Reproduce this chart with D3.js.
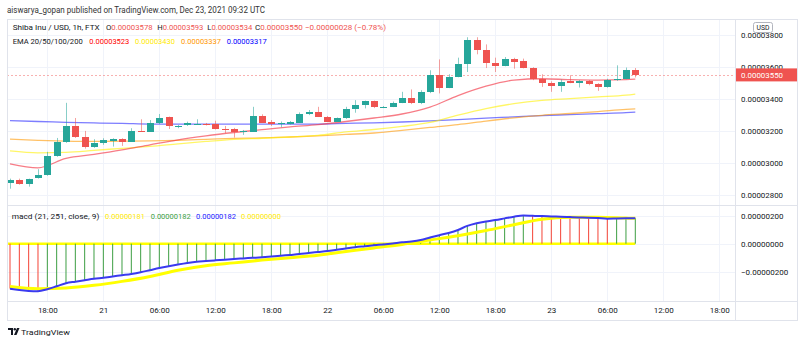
<!DOCTYPE html>
<html><head><meta charset="utf-8">
<script src="https://cdn.jsdelivr.net/npm/d3@7"></script>
<style>
body{margin:0;background:#fff}
svg{display:block}
text{font-family:Roboto,"Noto Sans",sans-serif}
</style>
</head><body>
<svg id="chart" width="800" height="343"></svg>
<script>
// ---------------- DATA (prices in units of 1e-8 USD) ----------------
const firstCandle = "2021-12-20T14:00:00Z";   // 1h candles
const open  = [2875,2894,2864,2902,2923,3043,3132,3230,3163,3097,3126,3138,3147,3132,3201,3194,3247,3284,3226,3234,3241,3244,3241,3213,3209,3194,3194,3292,3253,3242,3242,3250,3303,3315,3284,3257,3278,3336,3361,3386,3344,3350,3375,3403,3371,3440,3552,3471,3537,3616,3766,3704,3624,3606,3649,3635,3593,3527,3500,3479,3512,3502,3512,3492,3475,3517,3527,3578];
const high  = [2900,2900,2900,2959,3068,3155,3375,3280,3199,3147,3153,3153,3153,3216,3272,3267,3305,3289,3236,3257,3272,3249,3263,3230,3218,3205,3350,3303,3267,3258,3261,3315,3330,3350,3292,3283,3350,3392,3389,3389,3355,3383,3444,3459,3454,3579,3647,3554,3658,3786,3786,3741,3658,3662,3657,3652,3598,3554,3510,3521,3548,3517,3517,3498,3526,3610,3596,3593];
const low   = [2837,2862,2850,2900,2918,3037,3124,3155,3088,3093,3112,3101,3105,3130,3193,3193,3242,3211,3216,3230,3239,3233,3208,3184,3157,3174,3193,3249,3230,3222,3239,3249,3298,3286,3255,3255,3274,3313,3340,3342,3342,3348,3373,3367,3367,3436,3434,3467,3535,3568,3679,3593,3568,3604,3589,3591,3517,3475,3444,3444,3498,3471,3485,3450,3470,3513,3523,3534];
const close = [2894,2866,2898,2923,3043,3132,3230,3163,3097,3126,3143,3147,3132,3201,3194,3247,3278,3230,3232,3247,3244,3236,3211,3207,3194,3201,3292,3250,3242,3250,3253,3303,3315,3288,3257,3278,3334,3361,3386,3347,3350,3375,3403,3371,3440,3552,3471,3537,3616,3766,3704,3624,3606,3652,3633,3593,3527,3500,3481,3506,3502,3512,3490,3475,3521,3527,3578,3550];

// EMA lines read at these candle indices
const sampleIdx = [0,3,6,9,12,15,18,21,24,27,30,33,36,39,42,45,48,51,54,57,60,63,66,67];
const ema20  = [2993,2968,3027,3052,3080,3112,3143,3168,3189,3207,3224,3239,3258,3280,3305,3348,3420,3479,3517,3526,3520,3517,3520,3523];
const ema50  = [3074,3062,3065,3077,3090,3102,3118,3133,3146,3153,3161,3171,3193,3208,3227,3252,3298,3339,3370,3390,3401,3412,3423,3430];
const ema100 = [3147,3140,3135,3133,3135,3137,3140,3146,3152,3155,3161,3168,3177,3186,3202,3221,3239,3261,3281,3297,3308,3320,3334,3337];
const ema200 = [3263,3258,3253,3249,3246,3242,3241,3241,3241,3241,3241,3242,3246,3250,3255,3262,3270,3279,3287,3295,3301,3307,3313,3317];

// MACD (21, 251, close, 9), units of 1e-8
const macdLine = [-321,-331,-337,-339,-325,-304,-282,-271,-261,-251,-243,-234,-225,-216,-204,-189,-174,-161,-149,-138,-129,-124,-119,-114,-109,-105,-101,-97,-92,-86,-80,-74,-66,-59,-52,-43,-34,-25,-18,-11,-5,2,10,16,26,44,61,77,98,127,146,159,169,181,193,201,199,197,195,192,190,188,186,183,179,180,181,182];
const macdBefore = -310;   // value of the bar just before the first visible one
const signalLine = [-305,-321,-316,-297,-269,-234,-189,-157,-137,-117,-100,-82,-56,-30,-5,26,57,94,136,175,189,189,183,181];

// Axis ticks
const priceTicks = [2800,3000,3200,3400,3600,3800];
const macdTicks = [-200,0,200];
const timeTicks = ["2021-12-20T18:00:00Z","2021-12-21T00:00:00Z","2021-12-21T06:00:00Z","2021-12-21T12:00:00Z","2021-12-21T18:00:00Z","2021-12-22T00:00:00Z","2021-12-22T06:00:00Z","2021-12-22T12:00:00Z","2021-12-22T18:00:00Z","2021-12-23T00:00:00Z","2021-12-23T06:00:00Z","2021-12-23T12:00:00Z","2021-12-23T18:00:00Z"];
const timeLabels = ["18:00","21","06:00","12:00","18:00","22","06:00","12:00","18:00","23","06:00","12:00","18:00"];

// ---------------- LAYOUT ----------------
const svg = d3.select("#chart");
const L = 7, R = 735, RA = 797;
const pTop = 19, pBot = 205, mBot = 301, tBot = 320;
const GREEN = "#26a69a", RED = "#ef5350", GRID = "#f0f3fa", BORDER = "#e0e3eb", TXT = "#131722";
const fmt = v => (v < 0 ? "\u2212" : "") + (Math.abs(v) * 1e-8).toFixed(8);
const fs = 8;

const t0 = new Date(firstCandle);
const times = open.map((d, i) => d3.utcHour.offset(t0, i));
const x = d3.scaleUtc().domain([times[0], times[times.length - 1]]).range([10, 635.3]);
const y = d3.scaleLinear().domain([2800, 3800]).range([194.6, 35]);
const ym = d3.scaleLinear().domain([-200, 200]).range([271.7, 215.7]);

// helper: text fitted to a measured width
function fitText(parent, xx, yy, w, size, col, str) {
  return parent.append("text").attr("x", xx).attr("y", yy).attr("font-size", size).attr("fill", col)
    .attr("textLength", w).attr("lengthAdjust", "spacingAndGlyphs").text(str);
}

// clip paths
const defs = svg.append("defs");
defs.append("clipPath").attr("id", "cp").append("rect").attr("x", L).attr("y", pTop).attr("width", R - L).attr("height", pBot - pTop);
defs.append("clipPath").attr("id", "cm").append("rect").attr("x", L).attr("y", pBot).attr("width", R - L).attr("height", mBot - pBot);

// header
fitText(svg, 7, 13, 258, 8.4, "#333", "aiswarya_gopan published on TradingView.com, Dec 23, 2021 09:32 UTC");

// grid
const gx = timeTicks.map(t => Math.round(x(new Date(t))) + 0.5);
svg.append("g").selectAll("line").data(gx).join("line")
  .attr("x1", d => d).attr("x2", d => d).attr("y1", pTop).attr("y2", mBot)
  .attr("stroke", GRID);
svg.append("g").selectAll("line").data(priceTicks).join("line")
  .attr("x1", L).attr("x2", R).attr("y1", d => Math.round(y(d)) + 0.5).attr("y2", d => Math.round(y(d)) + 0.5)
  .attr("stroke", GRID);
svg.append("g").selectAll("line").data(macdTicks).join("line")
  .attr("x1", L).attr("x2", R).attr("y1", d => Math.round(ym(d)) + 0.5).attr("y2", d => Math.round(ym(d)) + 0.5)
  .attr("stroke", GRID);

// ---------- price pane ----------
const pp = svg.append("g").attr("clip-path", "url(#cp)");
const lineGen = d3.line().x(d => x(times[d[0]])).y(d => y(d[1])).curve(d3.curveMonotoneX);
const emaDefs = [
  [ema200, "rgba(70,70,255,0.7)", 1.3],
  [ema100, "rgba(255,152,0,0.6)", 1.3],
  [ema50,  "rgba(255,240,0,0.6)", 1.3],
  [ema20,  "rgba(242,54,69,0.65)", 1.3]
];
emaDefs.forEach(([arr, col, w]) => {
  pp.append("path").datum(sampleIdx.map((idx, k) => [idx, arr[k]]))
    .attr("d", lineGen).attr("fill", "none").attr("stroke", col).attr("stroke-width", w);
});

// current price dashed line
const lastC = close[close.length - 1];
pp.append("line").attr("x1", L).attr("x2", R)
  .attr("y1", Math.round(y(lastC)) + 0.5).attr("y2", Math.round(y(lastC)) + 0.5)
  .attr("stroke", "rgba(239,83,80,0.45)").attr("stroke-dasharray", "2,2");

// candles
const cg = pp.append("g");
open.forEach((o, i) => {
  const c = close[i], col = c >= o ? GREEN : RED;
  const cx = Math.round(x(times[i]));
  cg.append("line").attr("x1", cx + 0.5).attr("x2", cx + 0.5)
    .attr("y1", y(high[i])).attr("y2", y(low[i]))
    .attr("stroke", col).attr("stroke-opacity", 0.55).attr("stroke-width", 1);
  const top = Math.round(y(Math.max(o, c))), bot = Math.round(y(Math.min(o, c)));
  cg.append("rect").attr("x", cx - 3).attr("width", 7)
    .attr("y", top).attr("height", Math.max(1, bot - top))
    .attr("fill", col);
});

// ---------- MACD pane ----------
const mp = svg.append("g").attr("clip-path", "url(#cm)");
mp.append("line").attr("x1", x(times[0]) - 3).attr("x2", x(times[times.length - 1]))
  .attr("y1", ym(0)).attr("y2", ym(0)).attr("stroke", "#ffff00").attr("stroke-width", 2.5);
macdLine.forEach((v, i) => {
  const prev = i === 0 ? macdBefore : macdLine[i - 1];
  const col = v >= prev ? "#3d9e43" : "#f44336";
  mp.append("line").attr("x1", x(times[i])).attr("x2", x(times[i]))
    .attr("y1", ym(0)).attr("y2", ym(v)).attr("stroke", col).attr("stroke-width", 1);
});
const sigGen = d3.line().x(d => x(times[d[0]])).y(d => ym(d[1])).curve(d3.curveMonotoneX);
mp.append("path").datum(sampleIdx.map((idx, k) => [idx, signalLine[k]]))
  .attr("d", sigGen).attr("fill", "none").attr("stroke", "#ffff00").attr("stroke-width", 3);
const macdGen = d3.line().x((d, i) => x(times[i])).y(d => ym(d)).curve(d3.curveMonotoneX);
mp.append("path").datum(macdLine).attr("d", macdGen).attr("fill", "none")
  .attr("stroke", "#3a3af0").attr("stroke-width", 2);

// ---------- frame ----------
svg.append("rect").attr("x", L + 0.5).attr("y", pTop + 0.5).attr("width", RA - L).attr("height", tBot - pTop)
  .attr("fill", "none").attr("stroke", BORDER);
[pBot, mBot].forEach(yy => svg.append("line").attr("x1", L).attr("x2", RA).attr("y1", yy + 0.5).attr("y2", yy + 0.5).attr("stroke", BORDER));
svg.append("line").attr("x1", R + 0.5).attr("x2", R + 0.5).attr("y1", pTop).attr("y2", tBot).attr("stroke", BORDER);

// ---------- axes ----------
const priceAxis = d3.axisRight(y).tickValues(priceTicks).tickFormat(fmt).tickSize(0).tickPadding(6);
const pa = svg.append("g").attr("transform", `translate(${R},0)`).call(priceAxis);
pa.select(".domain").remove();
pa.selectAll("text").attr("font-size", fs).attr("fill", TXT).attr("font-family", "Roboto")
  .attr("textLength", 42).attr("lengthAdjust", "spacingAndGlyphs");

const macdAxis = d3.axisRight(ym).tickValues(macdTicks).tickFormat(fmt).tickSize(0).tickPadding(6);
const ma = svg.append("g").attr("transform", `translate(${R},0)`).call(macdAxis);
ma.select(".domain").remove();
ma.selectAll("text").attr("font-size", fs).attr("fill", TXT).attr("font-family", "Roboto");

const timeAxis = d3.axisBottom(x).tickValues(timeTicks.map(t => new Date(t)))
  .tickFormat((d, i) => timeLabels[i]).tickSize(0).tickPadding(6);
const ta = svg.append("g").attr("transform", `translate(0,${mBot})`).call(timeAxis);
ta.select(".domain").remove();
ta.selectAll("text").attr("font-size", fs).attr("fill", TXT).attr("font-family", "Roboto");

// USD box
svg.append("rect").attr("x", 753.5).attr("y", 22.5).attr("width", 19).attr("height", 10).attr("rx", 2)
  .attr("fill", "#fff").attr("stroke", "#b2b5be");
svg.append("text").attr("x", 763).attr("y", 30).attr("text-anchor", "middle").attr("font-size", 6.8).attr("fill", TXT).text("USD");

// last price label
svg.append("rect").attr("x", R + 1).attr("y", y(lastC) - 6.5).attr("width", RA - R - 1).attr("height", 13).attr("fill", RED);
svg.append("text").attr("x", R + 6).attr("y", y(lastC)).attr("dy", "0.35em").attr("font-size", fs)
  .attr("textLength", 42).attr("lengthAdjust", "spacingAndGlyphs")
  .attr("fill", "#fff").text(fmt(lastC));

// ---------- legends ----------
const n = open.length - 1;
const chg = close[n] - close[n - 1];
const pct = chg / close[n - 1] * 100;
const ohlcCol = close[n] >= open[n] ? GREEN : RED;
fitText(svg, 12.7, 30, 87, fs, TXT, "Shiba Inu / USD, 1h, FTX");
[["O", open[n], 106, 46.7], ["H", high[n], 157.3, 46], ["L", low[n], 207.3, 45], ["C", close[n], 255, 47.7]].forEach(([k, v, xx, w]) => {
  const t = svg.append("text").attr("x", xx).attr("y", 30).attr("font-size", fs).attr("fill", TXT)
    .attr("textLength", w).attr("lengthAdjust", "spacingAndGlyphs");
  t.append("tspan").text(k);
  t.append("tspan").attr("fill", ohlcCol).text(fmt(v));
});
fitText(svg, 305, 30, 81, fs, ohlcCol, fmt(chg) + " (" + (pct < 0 ? "\u2212" : "") + Math.abs(pct).toFixed(2) + "%)");

fitText(svg, 12.7, 44, 70, fs, TXT, "EMA 20/50/100/200");
[[ema20, "#ff0000", 89.3], [ema50, "#ffea00", 135], [ema100, "#ff9800", 181], [ema200, "#0000ff", 226.7]].forEach(([a, c, xx]) => {
  fitText(svg, xx, 44, 40, fs, c, fmt(a[a.length - 1]));
});

fitText(svg, 11.7, 219, 87.6, fs, TXT, "macd (21, 251, close, 9)");
[[signalLine[signalLine.length - 1], "#ffea00", 105], [macdLine[n], "#3d9e43", 150.7], [macdLine[n], "#2222ff", 196], [0, "#ffea00", 241]].forEach(([v, c, xx]) => {
  fitText(svg, xx, 219, 40, fs, c, fmt(v));
});

// ---------- TradingView logo ----------
const logo = svg.append("g").attr("transform", "translate(8,328)");
logo.append("path").attr("d", "M0,0 H5 V7 H3 V2 H0 Z").attr("fill", TXT);
logo.append("circle").attr("cx", 6.8).attr("cy", 1.2).attr("r", 1.2).attr("fill", TXT);
logo.append("path").attr("d", "M9,0 H11.5 L8.5,7 H6 Z").attr("fill", TXT);
fitText(svg, 21, 335, 49, 8, TXT, "TradingView");
</script>
</body></html>
